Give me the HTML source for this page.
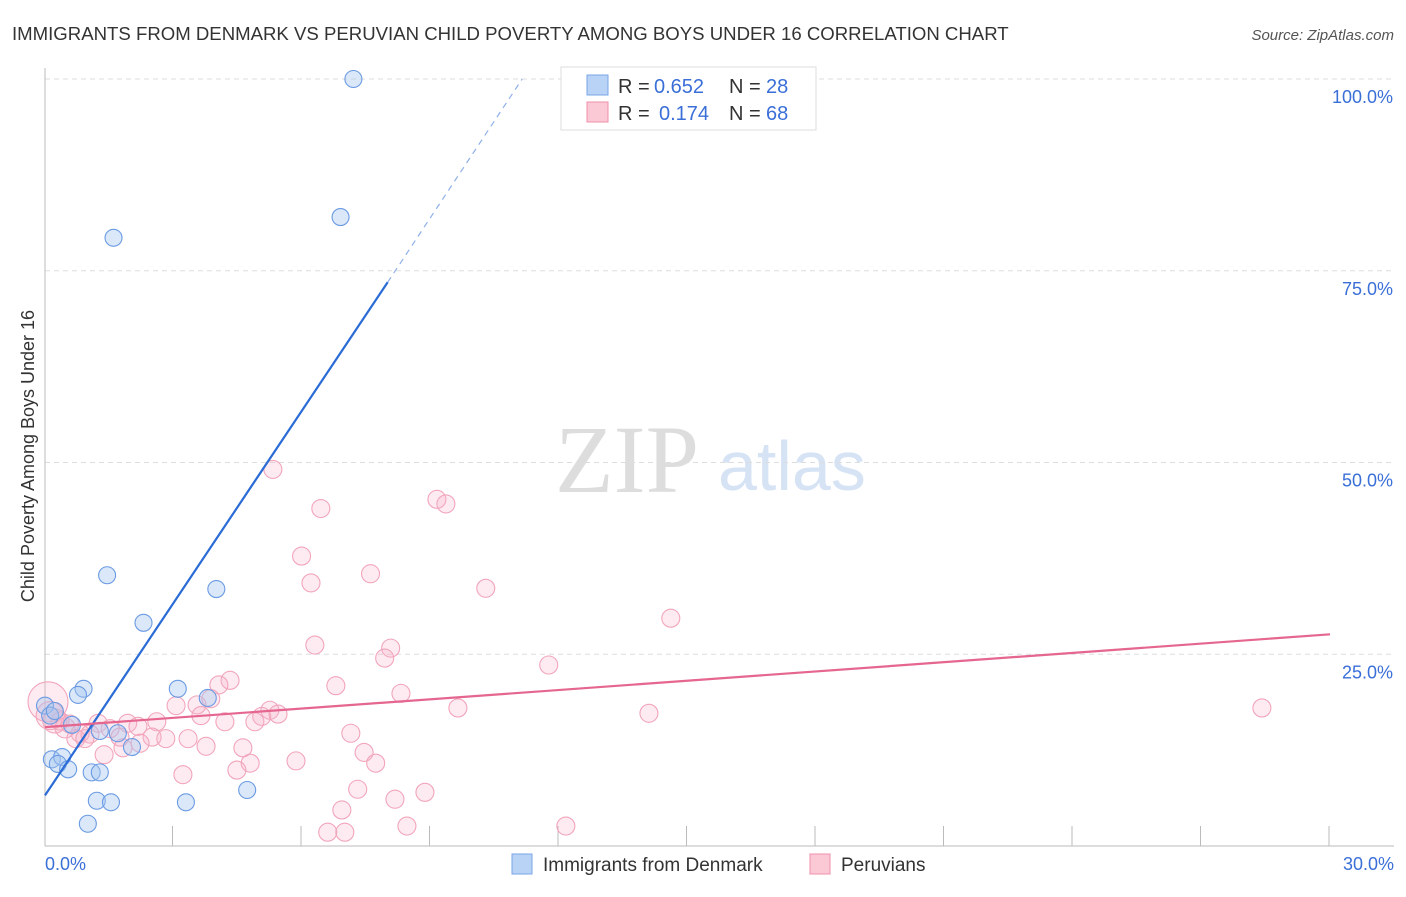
<!DOCTYPE html>
<html><head><meta charset="utf-8"><style>
body{margin:0;background:#fff;font-family:"Liberation Sans",sans-serif}
</style></head><body>
<svg width="1406" height="892" xmlns="http://www.w3.org/2000/svg">
<text x="12" y="40" font-size="18.6" fill="#333">IMMIGRANTS FROM DENMARK VS PERUVIAN CHILD POVERTY AMONG BOYS UNDER 16 CORRELATION CHART</text>
<text x="1394" y="40" font-size="15" fill="#555" font-style="italic" text-anchor="end">Source: ZipAtlas.com</text>
<text x="555" y="492" font-size="96" fill="#ddd" font-family="Liberation Serif,serif">ZIP</text>
<text x="718" y="490" font-size="70" fill="#d6e3f5">atlas</text>
<g id="grid"></g>
<line x1="45" y1="68" x2="45" y2="846" stroke="#bbb"/>
<line x1="45" y1="846" x2="1394" y2="846" stroke="#bbb"/>
<g id="xt"></g>
<text transform="translate(34,456) rotate(-90)" font-size="18" fill="#333" text-anchor="middle">Child Poverty Among Boys Under 16</text>
<text x="45" y="870" font-size="18" fill="#3a6fd8">0.0%</text>
<text x="1394" y="870" font-size="18" fill="#3a6fd8" text-anchor="end">30.0%</text>
<g id="pts"></g>
<g id="lines"></g>
<g>
<rect x="561" y="67" width="255" height="63" fill="#fff" stroke="#ddd"/>
<rect x="587" y="75" width="21" height="20" fill="#b8d3f5" stroke="#7aa6e6"/>
<rect x="587" y="102" width="21" height="20" fill="#fbc8d6" stroke="#f090aa"/>
<text x="618" y="93" font-size="20" fill="#333">R =</text>
<text x="654" y="93" font-size="20" fill="#3a6fd8">0.652</text>
<text x="729" y="93" font-size="20" fill="#333">N =</text>
<text x="766" y="93" font-size="20" fill="#3a6fd8">28</text>
<text x="618" y="120" font-size="20" fill="#333">R =</text>
<text x="659" y="120" font-size="20" fill="#3a6fd8">0.174</text>
<text x="729" y="120" font-size="20" fill="#333">N =</text>
<text x="766" y="120" font-size="20" fill="#3a6fd8">68</text>
</g>
<g>
<rect x="512" y="854" width="20" height="20" fill="#b8d3f5" stroke="#7aa6e6"/>
<text x="543" y="871" font-size="19" fill="#333">Immigrants from Denmark</text>
<rect x="810" y="854" width="20" height="20" fill="#fbc8d6" stroke="#f090aa"/>
<text x="841" y="871" font-size="19" fill="#333">Peruvians</text>
</g>
</svg>
<script>
const yTicks=[25,50,75,100];
const xTickVals=[3,6,9,12,15,18,21,24,27,30];
const blueX=[7.2,6.9,1.6,1.45,2.3,4.0,3.1,3.8,0.9,0.77,0.0,0.12,0.23,0.63,0.16,0.4,0.3,0.54,1.09,1.28,1.21,1.54,3.29,1.0,2.03,1.7,4.72,1.28];
const blueY=[100,82,79.3,35.3,29.1,33.5,20.5,19.3,20.5,19.7,18.3,17.0,17.6,15.8,11.3,11.6,10.7,10.0,9.6,9.6,5.9,5.7,5.7,2.9,12.9,14.7,7.3,15.0];
const pinkX=[5.32,6.44,9.15,9.36,5.99,7.6,6.21,10.29,14.61,6.3,8.07,7.93,11.76,4.32,6.79,8.31,4.06,28.41,9.64,14.1,3.06,3.55,3.87,5.25,5.06,5.44,4.9,4.2,3.64,2.61,1.93,2.17,1.24,0.35,0.58,0.82,1.05,1.52,1.75,2.5,2.82,3.34,3.76,4.62,7.14,7.45,1.82,1.38,0.72,5.86,7.72,4.79,4.48,3.22,7.3,8.17,8.87,6.93,6.6,7.0,8.45,12.16,0.07,0.12,0.23,0.47,2.22,0.93];
const pinkY=[49.1,44,45.2,44.6,37.8,35.5,34.3,33.6,29.7,26.2,25.8,24.5,23.6,21.6,20.9,19.9,21.0,18.0,18.0,17.3,18.3,18.4,19.2,17.7,16.9,17.2,16.2,16.2,17.0,16.2,16.0,15.6,16.0,16.3,15.9,14.7,14.6,15.3,14.2,14.2,14.0,14.0,13.0,12.8,14.7,12.2,12.8,11.9,14.0,11.1,10.8,10.8,9.9,9.3,7.4,6.1,7.0,4.7,1.8,1.8,2.6,2.6,18.8,17.0,16.3,15.4,13.4,14.0];
const pinkR=[9,9,9,9,9,9,9,9,9,9,9,9,9,9,9,9,9,9,9,9,9,9,9,9,9,9,9,9,9,9,9,9,9,9,9,9,9,9,9,9,9,9,9,9,9,9,9,9,9,9,9,9,9,9,9,9,9,9,9,9,9,9,20,14,12,10,9,9];
const X=v=>45+v/30*1285, Y=v=>846-v*7.67;
const ns="http://www.w3.org/2000/svg";
function mk(t,a,p){const e=document.createElementNS(ns,t);for(const k in a)e.setAttribute(k,a[k]);p.appendChild(e);return e;}
const grid=document.getElementById('grid');
yTicks.forEach(v=>{
 const l=mk('line',{x1:45,x2:1394,y1:Y(v),y2:Y(v),stroke:'#ddd','stroke-dasharray':'5,4'},grid);
 
 
 const t=mk('text',{x:1393,y:Y(v)+24,'font-size':18,fill:'#3a6fd8','text-anchor':'end'},grid);
 t.textContent=v.toFixed(1)+'%';
 
 
});
const xt=document.getElementById('xt');
xTickVals.forEach(v=>{
 const l=mk('line',{x1:X(v)-1,x2:X(v)-1,y1:826,y2:846,stroke:'#bbb'},xt);
 
 
});
const pts=document.getElementById('pts');
pinkX.forEach((v,i)=>{
 const c=mk('circle',{cx:X(v),cy:Y(pinkY[i]),r:pinkR[i],fill:'rgba(248,175,198,0.25)',stroke:'#f2a5bb','stroke-width':1.1},pts);
 
 
});
blueX.forEach((v,i)=>{
 const c=mk('circle',{cx:X(v),cy:Y(blueY[i]),r:8.5,fill:'rgba(165,198,240,0.4)',stroke:'#6b9be3','stroke-width':1.1},pts);
 
 
});
const lines=document.getElementById('lines');
let a=mk('line',{x1:X(0),y1:Y(6.6),x2:X(8.0),y2:Y(73.5),stroke:'#2a6bd6','stroke-width':2.2},lines);


a=mk('line',{x1:X(8.0),y1:Y(73.5),x2:X(11.14),y2:Y(100),stroke:'#8fb0e8','stroke-width':1.2,'stroke-dasharray':'6,5'},lines);


a=mk('line',{x1:X(0),y1:Y(15.5),x2:X(30),y2:Y(27.6),stroke:'#e5668f','stroke-width':2.2},lines);


</script>
</body></html>
